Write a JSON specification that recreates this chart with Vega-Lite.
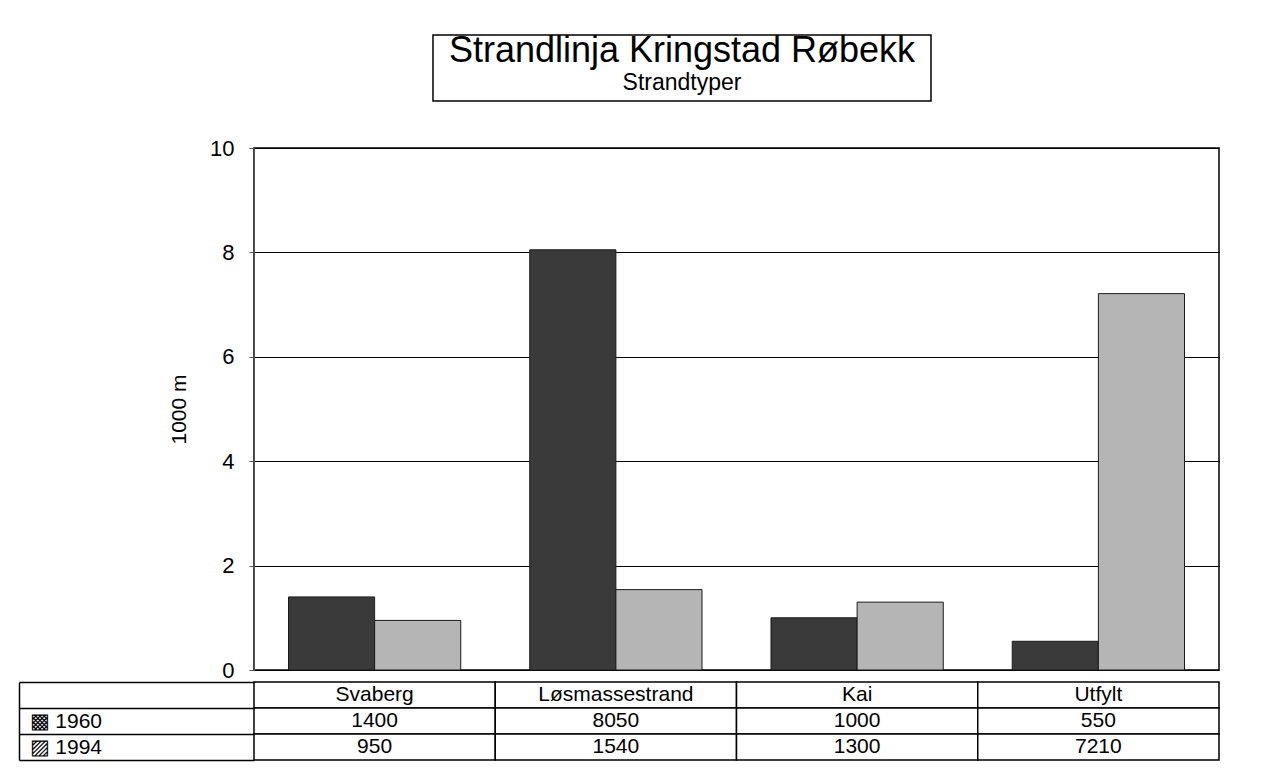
{
  "$schema": "https://vega.github.io/schema/vega-lite/v6.json",
  "padding": {"left": 18, "top": 32, "right": 10, "bottom": 5},
  "background": "white",
  "config": {"font": "Liberation Sans", "view": {"stroke": null}},
  "datasets": {
    "bars": [
      {"category": "Svaberg", "year": "1960", "value": 1400},
      {"category": "Svaberg", "year": "1994", "value": 950},
      {"category": "Løsmassestrand", "year": "1960", "value": 8050},
      {"category": "Løsmassestrand", "year": "1994", "value": 1540},
      {"category": "Kai", "year": "1960", "value": 1000},
      {"category": "Kai", "year": "1994", "value": 1300},
      {"category": "Utfylt", "year": "1960", "value": 550},
      {"category": "Utfylt", "year": "1994", "value": 7210}
    ],
    "cats": [
      {"category": "Svaberg"},
      {"category": "Løsmassestrand"},
      {"category": "Kai"},
      {"category": "Utfylt"}
    ],
    "titles": [
      {"line": "main", "text": "Strandlinja Kringstad Røbekk"},
      {"line": "sub", "text": "Strandtyper"}
    ]
  },
  "bounds": "flush",
  "spacing": 113,
  "vconcat": [
    {
      "bounds": "flush",
      "spacing": 20,
      "hconcat": [
        {"width": 159, "height": 66, "data": {"values": []}, "mark": "text"},
        {
          "width": 498,
          "height": 66,
          "view": {"stroke": "black", "strokeWidth": 1.5},
          "data": {"name": "titles"},
          "layer": [
            {
              "transform": [{"filter": "datum.line == 'main'"}],
              "mark": {"type": "text", "fontSize": 36, "baseline": "middle", "align": "center", "color": "black", "dy": -17},
              "encoding": {"text": {"field": "text"}}
            },
            {
              "transform": [{"filter": "datum.line == 'sub'"}],
              "mark": {"type": "text", "fontSize": 23, "baseline": "middle", "align": "center", "color": "black", "dy": 15},
              "encoding": {"text": {"field": "text"}}
            }
          ]
        }
      ]
    },
    {
      "bounds": "flush",
      "spacing": 12,
      "vconcat": [
        {
          "width": 965,
          "height": 522,
          "data": {"name": "bars"},
          "view": {"stroke": "black", "strokeWidth": 1.5},
          "mark": {"type": "bar", "stroke": "#1a1a1a", "strokeWidth": 1},
          "encoding": {
            "x": {"field": "category", "type": "nominal", "scale": {"domain": ["Svaberg", "Løsmassestrand", "Kai", "Utfylt"], "paddingInner": 0.286, "paddingOuter": 0.143}, "axis": null},
            "xOffset": {"field": "year", "type": "nominal", "scale": {"domain": ["1960", "1994"], "paddingInner": 0, "paddingOuter": 0}},
            "y": {
              "field": "value", "type": "quantitative",
              "scale": {"domain": [0, 10000], "nice": false},
              "axis": {
                "values": [0, 2000, 4000, 6000, 8000, 10000],
                "labelExpr": "datum.value / 1000",
                "title": "1000 m",
                "grid": true, "gridColor": "black", "gridWidth": 1,
                "domainColor": "#555", "tickColor": "#555", "tickSize": 5,
                "labelPadding": 15, "labelFontSize": 22, "labelColor": "black",
                "titleFontSize": 21, "titleFontWeight": "normal", "titleColor": "black", "titlePadding": 20
              }
            },
            "color": {"field": "year", "type": "nominal", "scale": {"domain": ["1960", "1994"], "range": ["#3a3a3a", "#b5b5b5"]}, "legend": null}
          }
        },
        {
          "width": 965,
          "height": 78,
          "layer": [
            {
              "data": {"name": "cats"},
              "mark": {"type": "rect", "fill": "white", "stroke": "black", "strokeWidth": 1.5},
              "encoding": {
                "x": {"field": "category", "type": "nominal", "scale": {"domain": ["Svaberg", "Løsmassestrand", "Kai", "Utfylt"], "paddingInner": 0, "paddingOuter": 0}, "axis": null},
                "y": {
                  "datum": "Kategori", "type": "nominal",
                  "scale": {"domain": ["Kategori", "1960", "1994"], "paddingInner": 0, "paddingOuter": 0},
                  "axis": {
                    "orient": "left", "offset": 235, "tickSize": -235, "tickBand": "extent",
                    "tickColor": "black", "tickWidth": 1.5, "domainColor": "black", "domainWidth": 1.5,
                    "labelAlign": "left", "labelPadding": 225, "labelFontSize": 21, "labelColor": "black",
                    "labelExpr": "datum.value == '1960' ? '▩ 1960' : (datum.value == '1994' ? '▨ 1994' : '')",
                    "title": null
                  }
                }
              }
            },
            {
              "data": {"name": "cats"},
              "mark": {"type": "text", "fontSize": 21, "baseline": "middle", "align": "center", "color": "black"},
              "encoding": {
                "x": {"field": "category", "type": "nominal"},
                "y": {"datum": "Kategori", "type": "nominal"},
                "text": {"field": "category"}
              }
            },
            {
              "data": {"name": "bars"},
              "mark": {"type": "rect", "fill": "white", "stroke": "black", "strokeWidth": 1.5},
              "encoding": {
                "x": {"field": "category", "type": "nominal"},
                "y": {"field": "year", "type": "nominal"}
              }
            },
            {
              "data": {"name": "bars"},
              "mark": {"type": "text", "fontSize": 21, "baseline": "middle", "align": "center", "color": "black"},
              "encoding": {
                "x": {"field": "category", "type": "nominal"},
                "y": {"field": "year", "type": "nominal"},
                "text": {"field": "value", "type": "quantitative", "format": "d"}
              }
            }
          ]
        }
      ]
    }
  ]
}
